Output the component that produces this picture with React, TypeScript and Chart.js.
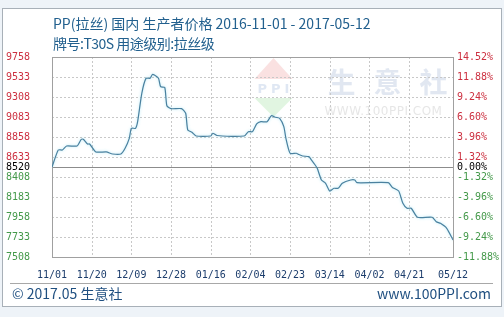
import React, { useEffect, useRef } from 'react';
import { Chart, registerables } from 'chart.js';

Chart.register(...registerables);

// ---- data ----
const BASE_PRICE = 8520;
const START_DATE = '2016-11-01';
const END_DATE = '2017-05-12';

const dates = [
  '2016-11-01', '2016-11-04', '2016-11-06', '2016-11-08', '2016-11-13', '2016-11-15', '2016-11-16',
  '2016-11-18', '2016-11-19', '2016-11-22', '2016-11-27', '2016-11-30', '2016-12-04', '2016-12-06',
  '2016-12-08', '2016-12-09', '2016-12-11', '2016-12-12', '2016-12-14', '2016-12-16', '2016-12-18',
  '2016-12-19', '2016-12-20', '2016-12-22', '2016-12-23', '2016-12-25', '2016-12-26', '2016-12-28',
  '2017-01-02', '2017-01-04', '2017-01-05', '2017-01-07', '2017-01-09', '2017-01-16', '2017-01-17',
  '2017-01-19', '2017-02-01', '2017-02-03', '2017-02-05', '2017-02-07', '2017-02-09', '2017-02-12',
  '2017-02-14', '2017-02-16', '2017-02-18', '2017-02-20', '2017-02-21', '2017-02-23', '2017-02-26',
  '2017-02-27', '2017-03-01', '2017-03-04', '2017-03-05', '2017-03-07', '2017-03-08', '2017-03-10',
  '2017-03-12', '2017-03-14', '2017-03-16', '2017-03-18', '2017-03-20', '2017-03-24', '2017-03-26',
  '2017-03-27', '2017-04-11', '2017-04-13', '2017-04-16', '2017-04-18', '2017-04-20', '2017-04-22',
  '2017-04-25', '2017-05-02', '2017-05-04', '2017-05-06', '2017-05-09', '2017-05-12',
];

const prices = [
  8520, 8712, 8712, 8757, 8757, 8832, 8832,
  8779, 8779, 8690, 8690, 8667, 8667, 8731,
  8843, 8956, 8956, 9030, 9350, 9518, 9518,
  9560, 9555, 9518, 9424, 9415, 9210, 9177,
  9177, 9125, 8937, 8912, 8869, 8869, 8900,
  8875, 8869, 8918, 8918, 9005, 9030, 9030,
  9098, 9080, 9068, 8974, 8843, 8675, 8675,
  8663, 8644, 8637, 8607, 8543, 8506, 8374,
  8337, 8250, 8281, 8281, 8337, 8374, 8374,
  8344, 8344, 8290, 8250, 8112, 8056, 8056,
  7955, 7955, 7905, 7887, 7831, 7700,
];

const xTickLabels = ['11/01', '11/20', '12/09', '12/28', '01/16', '02/04', '02/23', '03/14', '04/02', '04/21', '05/12'];
const leftTicks = [7508, 7733, 7958, 8183, 8408, 8520, 8633, 8858, 9083, 9308, 9533, 9758];
const rightTicks = [-11.88, -9.24, -6.6, -3.96, -1.32, 0, 1.32, 3.96, 6.6, 9.24, 11.88, 14.52];

const TITLE = 'PP(拉丝) 国内 生产者价格 2016-11-01 - 2017-05-12';
const SUBTITLE = '牌号:T30S 用途级别:拉丝级';
const FOOTER_LEFT = '© 2017.05 生意社';
const FOOTER_RIGHT = 'www.100PPI.com';
const WM_NAME = '生意社';
const WM_URL = 'WWW.100PPI.COM';
const WM_LOGO = 'PPI';

// ---- helpers ----
const DAY = 86400000;
const parseISO = (s: string) => {
  const [y, m, d] = s.split('-').map(Number);
  return Date.UTC(y, m - 1, d);
};
const startMs = parseISO(START_DATE);
const dayOf = (s: string) => Math.round((parseISO(s) - startMs) / DAY);
const tickDay = (lbl: string) => {
  const [m, d] = lbl.split('/').map(Number);
  const y = m >= 11 ? 2016 : 2017;
  return Math.round((Date.UTC(y, m - 1, d) - startMs) / DAY);
};
const xTickDays = xTickLabels.map(tickDay);
const maxDay = dayOf(END_DATE);

const RED = '#cc3040';
const GREEN = '#44994a';
const BLACK = '#000000';
const TICK_FONT = { family: '"DejaVu Sans Mono", monospace', size: 10 };

const gridPlugin = {
  id: 'customGrid',
  beforeDraw(chart: any) {
    const { ctx, chartArea } = chart;
    const { left, right, top } = chartArea;
    const cx = (left + right) / 2;
    ctx.save();
    // watermark logo: diamond halves
    const lx = cx + 21;
    ctx.fillStyle = 'rgba(240,170,170,0.35)';
    ctx.beginPath();
    ctx.moveTo(lx, top + 1);
    ctx.lineTo(lx + 19, top + 22);
    ctx.lineTo(lx - 19, top + 22);
    ctx.closePath();
    ctx.fill();
    ctx.fillStyle = 'rgba(170,225,170,0.35)';
    ctx.beginPath();
    ctx.moveTo(lx - 19, top + 41);
    ctx.lineTo(lx + 19, top + 41);
    ctx.lineTo(lx, top + 60);
    ctx.closePath();
    ctx.fill();
    ctx.fillStyle = 'rgba(175,195,225,0.4)';
    ctx.font = 'bold 13px "DejaVu Sans", sans-serif';
    ctx.textAlign = 'center';
    ctx.textBaseline = 'middle';
    try { (ctx as any).letterSpacing = '4px'; } catch (e) {}
    ctx.fillText(WM_LOGO, lx + 2, top + 33);
    // big name
    ctx.fillStyle = 'rgba(205,215,232,0.6)';
    ctx.font = 'bold 28px "Noto Sans CJK SC", sans-serif';
    ctx.textAlign = 'left';
    try { (ctx as any).letterSpacing = '18px'; } catch (e) {}
    ctx.fillText(WM_NAME, cx + 75, top + 25);
    ctx.fillStyle = 'rgba(210,210,210,0.55)';
    ctx.font = '12px "DejaVu Sans", sans-serif';
    try { (ctx as any).letterSpacing = '0.5px'; } catch (e) {}
    ctx.fillText(WM_URL, cx + 72, top + 55);
    try { (ctx as any).letterSpacing = '0px'; } catch (e) {}
    ctx.restore();
  },
  beforeDatasetsDraw(chart: any) {
    const { ctx, chartArea, scales } = chart;
    const { left, right, top, bottom } = chartArea;
    const x = scales.x;
    const y = scales.y;
    ctx.save();
    ctx.lineWidth = 1;
    ctx.strokeStyle = '#c8c8c8';
    ctx.setLineDash([2, 2]);
    leftTicks.forEach((v) => {
      if (v === BASE_PRICE) return;
      const py = Math.round(y.getPixelForValue(v)) + 0.5;
      ctx.beginPath();
      ctx.moveTo(left, py);
      ctx.lineTo(right, py);
      ctx.stroke();
    });
    xTickDays.forEach((d) => {
      const px = Math.round(x.getPixelForValue(d)) + 0.5;
      ctx.beginPath();
      ctx.moveTo(px, top);
      ctx.lineTo(px, bottom);
      ctx.stroke();
    });
    ctx.setLineDash([]);
    ctx.strokeStyle = '#8c8c8c';
    const by = Math.round(y.getPixelForValue(BASE_PRICE)) + 0.5;
    ctx.beginPath();
    ctx.moveTo(left, by);
    ctx.lineTo(right, by);
    ctx.stroke();
    ctx.strokeStyle = '#a0a0a0';
    ctx.strokeRect(Math.round(left) + 0.5, Math.round(top) + 0.5, Math.round(right - left), Math.round(bottom - top));
    ctx.restore();
  },
  beforeDatasetDraw(chart: any) {
    const ctx = chart.ctx;
    ctx.save();
    ctx.shadowColor = 'rgba(120,215,240,0.6)';
    ctx.shadowBlur = 3;
  },
  afterDatasetDraw(chart: any) {
    chart.ctx.restore();
  },
};

function ChartCanvas() {
  const ref = useRef<HTMLCanvasElement | null>(null);
  useEffect(() => {
    if (!ref.current) return;
    const points = dates.map((d, i) => ({ x: dayOf(d), y: prices[i] }));
    const chart = new Chart(ref.current, {
      type: 'line',
      data: {
        datasets: [
          {
            data: points,
            borderColor: '#4a819f',
            borderWidth: 1.2,
            pointRadius: 0,
            tension: 0.2,
            fill: false,
          },
        ],
      },
      options: {
        animation: false,
        responsive: false,
        maintainAspectRatio: false,
        layout: { padding: { top: 57, left: 0, right: 0, bottom: 32 } },
        plugins: { legend: { display: false }, tooltip: { enabled: false }, title: { display: false } },
        scales: {
          x: {
            type: 'linear',
            min: 0,
            max: maxDay,
            afterBuildTicks: (s: any) => {
              s.ticks = xTickDays.map((v) => ({ value: v }));
            },
            afterFit: (s: any) => {
              s.height = 28;
            },
            ticks: {
              autoSkip: false,
              maxRotation: 0,
              minRotation: 0,
              padding: 12,
              color: '#1c3d6c',
              font: TICK_FONT,
              callback: (v: any) => {
                const i = xTickDays.indexOf(Number(v));
                return i >= 0 ? xTickLabels[i] : '';
              },
            },
            grid: { display: false, drawTicks: false },
            border: { display: false },
          },
          y: {
            type: 'linear',
            position: 'left',
            min: leftTicks[0],
            max: leftTicks[leftTicks.length - 1],
            afterBuildTicks: (s: any) => {
              s.ticks = leftTicks.map((v) => ({ value: v }));
            },
            afterFit: (s: any) => {
              s.width = 52;
            },
            ticks: {
              autoSkip: false,
              padding: 22,
              font: TICK_FONT,
              color: (c: any) => {
                const v = c.tick ? c.tick.value : 0;
                return v > BASE_PRICE ? RED : v < BASE_PRICE ? GREEN : BLACK;
              },
              callback: (v: any) => String(v),
            },
            grid: { display: false, drawTicks: false },
            border: { display: false },
          },
          y1: {
            type: 'linear',
            position: 'right',
            min: rightTicks[0],
            max: rightTicks[rightTicks.length - 1],
            afterBuildTicks: (s: any) => {
              s.ticks = rightTicks.map((v) => ({ value: v }));
            },
            afterFit: (s: any) => {
              s.width = 51;
            },
            ticks: {
              autoSkip: false,
              padding: 4,
              font: TICK_FONT,
              color: (c: any) => {
                const v = c.tick ? c.tick.value : 0;
                return v > 0 ? RED : v < 0 ? GREEN : BLACK;
              },
              callback: (v: any) => Number(v).toFixed(2) + '%',
            },
            grid: { display: false, drawTicks: false },
            border: { display: false },
          },
        },
      },
      plugins: [gridPlugin],
    } as any);
    return () => chart.destroy();
  }, []);
  return (
    <canvas
      ref={ref}
      width={504}
      height={317}
      style={{ position: 'absolute', left: 0, top: 0, width: 504, height: 317 }}
    />
  );
}

export default function App() {
  const textFont = '"Noto Sans CJK SC", "Noto Sans", sans-serif';
  return (
    <div
      style={{
        position: 'fixed',
        left: 0,
        top: 0,
        width: 504,
        height: 317,
        background: '#eef3f8',
        overflow: 'hidden',
      }}
    >
      <div
        style={{
          position: 'absolute',
          left: 2,
          top: 8,
          width: 500,
          height: 299,
          boxSizing: 'border-box',
          border: '1px solid #a8b0b8',
          background: '#ffffff',
        }}
      />
      <div
        style={{
          position: 'absolute',
          left: 10,
          top: 283,
          width: 483,
          height: 1,
          background: '#a8a8a8',
        }}
      />
      <ChartCanvas />
      <div
        style={{
          position: 'absolute',
          left: 53,
          top: 14,
          font: `14px/18px ${textFont}`,
          color: '#22608e',
          whiteSpace: 'nowrap',
        }}
      >
        {TITLE}
      </div>
      <div
        style={{
          position: 'absolute',
          left: 53,
          top: 34,
          font: `14px/18px ${textFont}`,
          color: '#22608e',
          whiteSpace: 'nowrap',
          letterSpacing: '-0.5px',
        }}
      >
        {SUBTITLE}
      </div>
      <div
        style={{
          position: 'absolute',
          left: 12,
          top: 284,
          font: `14px/18px ${textFont}`,
          color: '#1f4f80',
          whiteSpace: 'nowrap',
        }}
      >
        {FOOTER_LEFT}
      </div>
      <div
        style={{
          position: 'absolute',
          right: 13,
          top: 284,
          font: `14px/18px ${textFont}`,
          color: '#1f4f80',
          whiteSpace: 'nowrap',
        }}
      >
        {FOOTER_RIGHT}
      </div>
    </div>
  );
}
